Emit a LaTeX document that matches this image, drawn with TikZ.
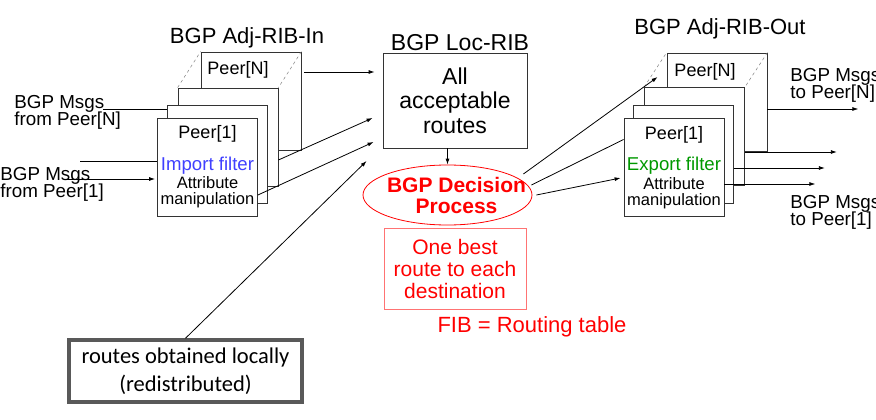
\documentclass[tikz,border=0pt]{standalone}
\usepackage{fontspec}
\setmainfont{Liberation Sans}
\newfontfamily\carlito{Carlito}
\usetikzlibrary{arrows.meta,shapes.geometric}

\begin{document}
\begin{tikzpicture}[x=1pt,y=-1pt,
    >={Latex[length=6pt,width=4pt]},
    line width=.8pt,
    rib/.style={draw=black!80,fill=white,minimum width=100pt,minimum height=98pt,inner sep=0pt},
    ribtext/.style={rib,align=center,font=\fontsize{16.5}{17}\selectfont},
    persp/.style={draw=black!50,dashed,line width=.5pt},
    ribtitle/.style={anchor=base,inner sep=0pt,font=\fontsize{22}{24}\selectfont},
    peer/.style={inner sep=0pt,font=\fontsize{18}{20}\selectfont},
    msgs/.style={anchor=north west,inner sep=0pt,align=left,font=\fontsize{18.8}{19}\selectfont}]
\useasboundingbox (0,0) rectangle (876,420);

% Adj-RIB-In stack
\node [ribtitle] (ribin) at (247,44) {BGP Adj-RIB-In};
\node [rib] (inN) at (251,101) {};
\node [rib] (in3) at (228,137) {};
\node [rib] (in2) at (217.5,154) {};
\node [ribtext] (in1) at (207.5,167) {{\fontsize{18}{18}\selectfont Peer[1]}\\[13pt]
    {\color{blue!75!white}\fontsize{18.6}{18}\selectfont Import filter}\\[1.5pt]
    Attribute\\[-1pt] manipulation};
\node [peer] (inNt) at (238,70) {Peer[N]};
\draw[persp] (in3.north west) -- (inN.north west);
\draw[persp] (inN.north east) -- (in3.north east);

\node [msgs] (msgN) at (14,95) {BGP Msgs\\[-2pt]from Peer[N]};
\node [msgs] (msg1) at (0,167) {BGP Msgs\\[-2pt]from Peer[1]};

\path (node cs:name=msgN,anchor=north west) +(89,14) coordinate (msgNo);
\path (node cs:name=in2,anchor=west) +(0,-45) coordinate (in2i);
\draw (msgNo) -- (in2i);
\path (node cs:name=in1,anchor=west) +(-77,-6) coordinate (p1a);
\draw (p1a) -- (in1.west |- p1a);
\path (node cs:name=in1,anchor=west) +(-90,12) coordinate (p1b);
\path (node cs:name=in1,anchor=west) +(-2,12) coordinate (in1i);
\draw[->] (p1b) -- (in1i);

% Loc-RIB, decision process, FIB
\node [ribtitle,font=\fontsize{23}{24}\selectfont] (locT) at (460,51) {BGP Loc-RIB};
\node [draw=black!80,minimum width=144pt,minimum height=95pt,align=center,
    font=\fontsize{23}{24.5}\selectfont] (loc) at (455,100.5) {All\\acceptable\\routes};
\node [ellipse,draw=red,text=red,minimum width=169pt,minimum height=60pt,
    inner xsep=-19pt,inner ysep=1pt,align=center,
    font=\bfseries\fontsize{21}{21}\selectfont] (dec) at (447.5,195)
    {\hspace*{18pt}BGP Decision\\\hspace*{18pt}Process};
\node [draw=red!55,text=red,minimum width=142pt,minimum height=81pt,align=center,
    font=\fontsize{21}{22}\selectfont] (fib) at (455,268.5) {One best\\route to each\\destination};
\node [text=red,font=\fontsize{22}{24}\selectfont] (fibT) at (532,327) {FIB = Routing table};

\draw[->] (dec.north |- loc.south) -- (dec.north);

\path (node cs:name=inN,anchor=east) +(3,-29) coordinate (inNo);
\path (node cs:name=loc,anchor=west) +(-8,-28.5) coordinate (locN);
\draw[->] (inNo) -- (locN);
\path (node cs:name=in3,anchor=east) +(0,23) coordinate (in3o);
\path (node cs:name=loc,anchor=west) +(-10,17.5) coordinate (loc3);
\draw[->] (in3o) -- (loc3);
\path (node cs:name=in1,anchor=east) +(0,28) coordinate (in1o);
\path (node cs:name=loc,anchor=west) +(-9,41.5) coordinate (loc1);
\draw[->] (in1o) -- (loc1);

% locally obtained routes
\node [draw=black!65,line width=3.5pt,minimum width=233pt,minimum height=62pt,align=center,
    font=\carlito\fontsize{22.5}{28}\selectfont] (local) at (185.5,371) {routes obtained locally\\(redistributed)};
\path (node cs:name=loc,anchor=west) +(-16,60.5) coordinate (locL);
\draw[->] (local.north) -- (locL);

% Adj-RIB-Out stack
\node [ribtitle] (ribout) at (720,35) {BGP Adj-RIB-Out};
\node [rib] (outN) at (717,102) {};
\node [rib] (out3) at (694.5,136.5) {};
\node [rib] (out2) at (683.5,154) {};
\node [ribtext] (out1) at (674,167.5) {{\fontsize{18}{18}\selectfont Peer[1]}\\[13pt]
    {\color{green!60!black}\fontsize{18.6}{18}\selectfont Export filter}\\[1.5pt]
    Attribute\\[-1pt] manipulation};
\node [peer] (outNt) at (705,72) {Peer[N]};
\draw[persp] (out3.north west) -- (outN.north west);
\draw[persp] (outN.north east) -- (out3.north east);

\path (node cs:name=dec,anchor=east) +(-9,-21) coordinate (deca);
\path (node cs:name=dec,anchor=east) +(-1,-10) coordinate (decb);
\path (node cs:name=dec,anchor=east) +(4,0) coordinate (decc);
\path (node cs:name=outN,anchor=west) +(-9,-25) coordinate (outNi);
\draw[->] (deca) -- (outNi);
\path (node cs:name=out1,anchor=west) +(0,-28) coordinate (out1a);
\draw (decb) -- (out1a);
\path (node cs:name=out1,anchor=west) +(-3,10.5) coordinate (out1b);
\draw[->] (decc) -- (out1b);

\path (node cs:name=outN,anchor=east) +(0,7) coordinate (outNo);
\draw[->] (outNo) -- ++(91,0) coordinate (toN);
\path (node cs:name=out3,anchor=east) +(0,15.5) coordinate (out3o);
\draw[->] (out3o) -- ++(92,0) coordinate (to3);
\path (node cs:name=out2,anchor=east) +(0,14) coordinate (out2o);
\draw[->] (out2o) -- ++(91,0) coordinate (to2);
\path (node cs:name=out1,anchor=east) +(0,16.5) coordinate (out1o);
\draw[->] (out1o) -- ++(91,0) coordinate (to1);

\node [msgs] (msgoN) at (790,68) {BGP Msgs\\[-2pt]to Peer[N]};
\node [msgs] (msgo1) at (790,195) {BGP Msgs\\[-2pt]to Peer[1]};
\end{tikzpicture}
\end{document}
